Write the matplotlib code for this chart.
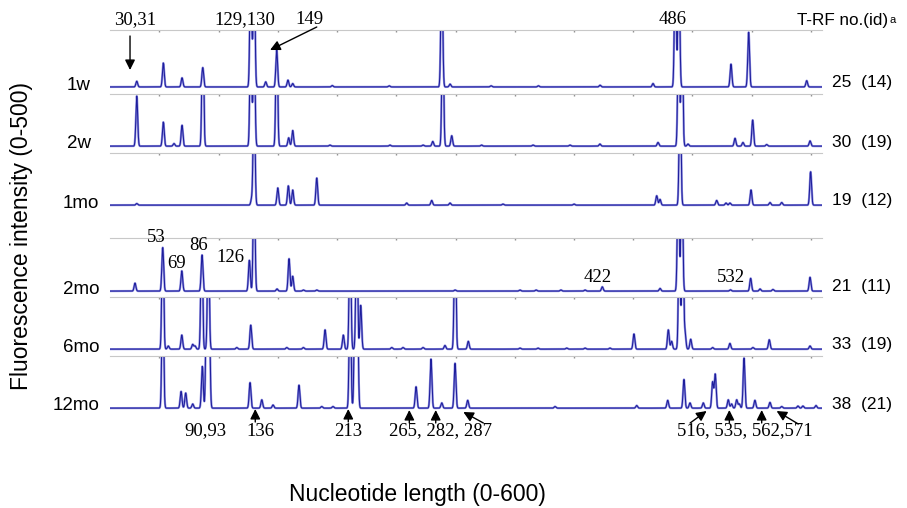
# T-RFLP electropherograms, one strip per sampling age
import numpy as np
import matplotlib
matplotlib.use("Agg")
import matplotlib.pyplot as plt
from matplotlib.transforms import blended_transform_factory

W, H = 907, 508

ages = ["1w", "2w", "1mo", "2mo", "6mo", "12mo"]
trf_counts = ["25  (14)", "30  (19)", "19  (12)", "21  (11)", "33  (19)", "38  (21)"]

# peak positions (bp) and heights (fluorescence units); >500 runs off scale
pos_1w = [31, 53.4, 69.2, 86.7, 127.2, 130, 139.8, 149.1, 158.6, 162.6, 196, 244, 288.4,
          295.4, 330, 370, 422, 466.7, 485.5, 488.5, 532.5, 547.4, 596.4]
hgt_1w = [50, 210, 80, 170, 1200, 1200, 45, 325, 60, 30, 12, 10, 1200,
          25, 10, 10, 15, 30, 1200, 1200, 200, 480, 55]

pos_2w = [31, 53.4, 62.4, 69.2, 86.7, 127.2, 130, 149.1, 159.2, 162.6, 194, 244.7, 272.6,
          280.8, 289.2, 296.8, 322, 365.4, 396.6, 421.9, 470.9, 488.3, 491.1, 496.2,
          535.9, 542.6, 550.8, 562.6, 599.2]
hgt_2w = [480, 230, 25, 200, 1200, 1200, 1200, 1200, 80, 150, 10, 10, 10,
          45, 1200, 100, 10, 10, 10, 20, 35, 1200, 1200, 20,
          75, 35, 250, 15, 50]

pos_1mo = [31, 128, 130, 150, 158.9, 162.6, 182.9, 258.8, 279.9, 295.4, 340, 400,
           469.8, 472.6, 489.5, 520.4, 528.3, 531.6, 549.4, 565.4, 575.3, 599.7]
hgt_1mo = [15, 60, 1200, 165, 185, 145, 260, 20, 45, 20, 10, 10,
           90, 55, 1200, 45, 20, 20, 145, 25, 25, 320]

pos_2mo = [29.5, 52.9, 69, 86.1, 126, 130, 149.4, 159.5, 162.6, 171.6, 182.9, 299.6,
           354.4, 368, 389, 409.3, 423.9, 472.6, 488, 491, 532, 549.1, 557, 567.9, 599.2]
hgt_2mo = [75, 410, 190, 340, 290, 1200, 20, 305, 140, 10, 10, 10,
           10, 10, 10, 10, 40, 25, 1200, 1200, 12, 120, 20, 15, 130]

pos_6mo = [52.9, 57.6, 69, 78.2, 80.2, 85.8, 91.4, 115.4, 127.2, 157.6, 171.6, 189.9,
           205.3, 211, 216.6, 220, 246.2, 255.7, 272.6, 291.1, 299.6, 310.8, 354.4,
           369.6, 393.8, 409.3, 430.4, 450.6, 479.6, 482.4, 488.9, 491.7, 493.7, 498.5,
           517, 531.6, 551, 564.8, 599.2]
hgt_6mo = [1200, 30, 135, 45, 30, 1200, 1200, 15, 230, 15, 15, 185,
           135, 1200, 1200, 420, 15, 15, 15, 35, 1200, 75, 10,
           10, 10, 10, 10, 145, 185, 75, 1200, 1200, 155, 95,
           15, 55, 15, 90, 30]

pos_12mo = [52.9, 68.4, 72.3, 78.2, 86.3, 90, 92, 126.6, 136.5, 146, 167.9, 187.1, 196.6,
            211, 215.2, 217.1, 266.7, 279.3, 288.4, 299.6, 310.3, 384, 452.9, 479.1,
            492.8, 497.9, 509.1, 517, 519.2, 530.2, 533, 537.3, 539.5, 543.5, 552.7,
            565.4, 575.3, 589, 593.2, 604.2]
hgt_12mo = [1200, 160, 145, 40, 400, 1200, 1200, 245, 80, 30, 220, 15, 15,
            1200, 1200, 1200, 205, 470, 50, 430, 75, 15, 25, 75,
            275, 50, 50, 250, 325, 80, 40, 80, 40, 480, 75,
            55, 15, 20, 20, 25]

peaks = [(pos_1w, hgt_1w), (pos_2w, hgt_2w), (pos_1mo, hgt_1mo),
         (pos_2mo, hgt_2mo), (pos_6mo, hgt_6mo), (pos_12mo, hgt_12mo)]

# strip extents in pixels from the top of the figure: (top line, baseline)
strips = [(30, 87), (94, 146), (153, 205), (238, 291), (297, 349), (356, 408)]
x_left, x_right = 110, 822
xmin, xmax = 8.4, 609.3

navy = "#1e1e9c"
halo = "#9090e0"
sans = ["Liberation Sans", "DejaVu Sans"]
serif = ["Liberation Serif", "DejaVu Serif"]


def fy(ypx):
    return 1 - ypx / H


def trace(x, pos, hgt, sigma=0.75):
    y = np.zeros_like(x)
    for p, h in zip(pos, hgt):
        y += h * np.exp(-0.5 * ((x - p) / sigma) ** 2)
    return y


fig = plt.figure(figsize=(W / 100, H / 100), dpi=100)
x = np.linspace(xmin, xmax, 8000)
axes = []
for (top, base), (pos, hgt) in zip(strips, peaks):
    ax = fig.add_axes([x_left / W, fy(base + 2), (x_right - x_left) / W, (base + 2 - top) / H])
    y = trace(x, pos, hgt)
    ax.plot(x, y, color=halo, lw=1.6)
    ax.plot(x, y, color=navy, lw=0.75)
    ax.set_xlim(xmin, xmax)
    ax.set_ylim(-18, 500)
    for s in ["left", "right", "bottom"]:
        ax.spines[s].set_visible(False)
    ax.spines["top"].set_color("#c8c8c8")
    ax.spines["top"].set_linewidth(0.8)
    ax.set_yticks([])
    ax.set_xticks(np.arange(50, 601, 50))
    ax.xaxis.set_ticks_position("top")
    ax.tick_params(axis="x", direction="in", length=1.5, width=1.0, color="#909090",
                   labeltop=False, labelbottom=False)
    axes.append(ax)

# strip labels on both sides
label_right = [91, 91, 99, 99, 99, 99]
for (top, base), name, lx, cnt in zip(strips, ages, label_right, trf_counts):
    fig.text(lx / W, fy(base - 2), name, ha="right", va="center", fontsize=13.5, family=sans)
    fig.text(832 / W, fy(base - 4), cnt, ha="left", va="center", fontsize=12.5, family=sans)

fig.text(797 / W, fy(21), "T-RF no.(id)", ha="left", va="center", fontsize=12.3, family=sans)
fig.text(890 / W, fy(20), "a", ha="left", va="center", fontsize=8, family=sans)

fig.text(22 / W, fy(236), "Fluorescence intensity (0-500)", rotation=90,
         ha="center", va="center", fontsize=16.5, family=sans)
fig.text(417 / W, fy(495), "Nucleotide length (0-600)", ha="center", va="center",
         fontsize=16.5, family=sans)

top_ax, ax2mo, bot_ax = axes[0], axes[3], axes[5]
tt = blended_transform_factory(top_ax.transData, fig.transFigure)

# labels above the 1w strip
for xv, txt in [(29.5, "30,31"), (122, "129,130"), (177, "149"), (483, "486")]:
    top_ax.text(xv, fy(20), txt, transform=tt, ha="center", va="center",
                fontsize=13.5, family=serif, clip_on=False)

arrow = dict(arrowstyle="-|>", color="black", lw=1.0, mutation_scale=15, shrinkA=0, shrinkB=0)
crd = ("data", "figure fraction")
top_ax.annotate("", xy=(25.3, fy(70)), xytext=(25.3, fy(36)), xycoords=crd,
                textcoords=crd, arrowprops=arrow, annotation_clip=False)
top_ax.annotate("", xy=(143.5, fy(50)), xytext=(182.9, fy(27)), xycoords=crd,
                textcoords=crd, arrowprops=arrow, annotation_clip=False)

# peak labels inside the 2mo strip
tm = blended_transform_factory(ax2mo.transData, fig.transFigure)
for xv, yv, txt in [(47.3, 237, "53"), (64.7, 263, "69"), (82.9, 245, "86"),
                    (109.7, 257, "126"), (420.3, 278, "422"), (532.3, 278, "532")]:
    ax2mo.text(xv, fy(yv), txt, transform=tm, ha="center", va="center",
               fontsize=13.5, family=serif, clip_on=False)

# labels and arrows below the 12mo strip
tb = blended_transform_factory(bot_ax.transData, fig.transFigure)
for xv, txt in [(88.6, "90,93"), (135, "136"), (209.5, "213"),
                (287, "265, 282, 287"), (544, "516, 535, 562,571")]:
    bot_ax.text(xv, fy(431), txt, transform=tb, ha="center", va="center",
                fontsize=13.5, family=serif, clip_on=False)

for x0, y0, x1, y1 in [(131, 422, 131, 409), (209.5, 422, 209.5, 409),
                       (261, 423, 261, 410), (283.3, 423, 283.3, 410),
                       (323.5, 423, 306.6, 412), (498, 423, 511.9, 411),
                       (531.1, 423, 531.1, 410), (558.4, 423, 558.4, 410),
                       (589.3, 424, 571, 411)]:
    bot_ax.annotate("", xy=(x1, fy(y1)), xytext=(x0, fy(y0)), xycoords=crd,
                    textcoords=crd, arrowprops=arrow, annotation_clip=False)

fig.savefig("out.png", dpi=100)
